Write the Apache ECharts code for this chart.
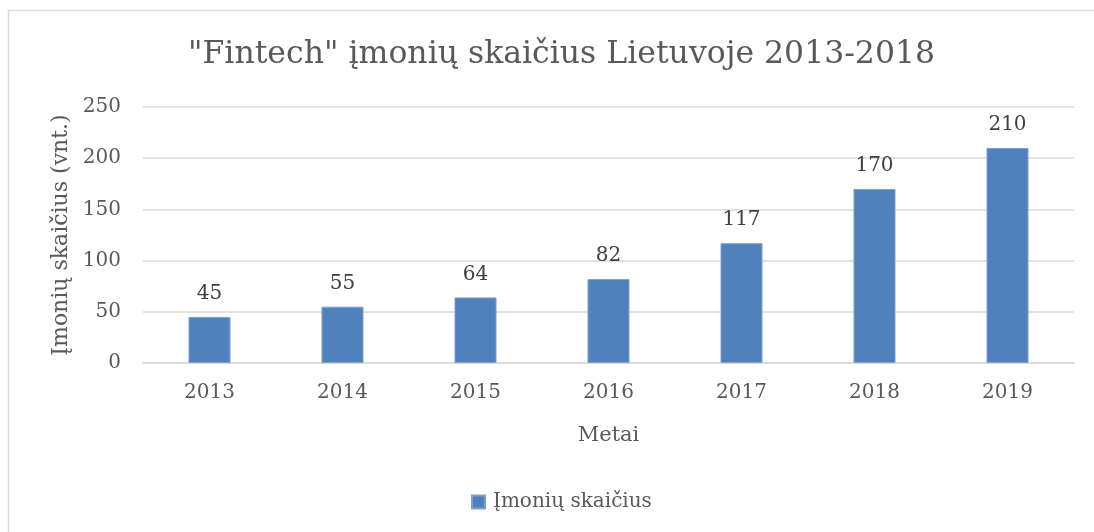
<!DOCTYPE html>
<html>
<head>
	<meta charset="utf-8">
	<title>Fintech įmonių skaičius</title>
	<script src="https://cdn.jsdelivr.net/npm/echarts@6/dist/echarts.min.js"></script>
	<style>
		html, body { margin: 0; padding: 0; background: #fff; }
		#chart { width: 1094px; height: 532px; }
	</style>
</head>
<body>
<div id="chart"></div>
<script>
	var years = ['2013', '2014', '2015', '2016', '2017', '2018', '2019'];
	var companies = [45, 55, 64, 82, 117, 170, 210];

	var font = '"DejaVu Serif", "Liberation Serif", serif';

	var myChart = echarts.init(document.getElementById('chart'));
	var option = {
		backgroundColor: '#fff',
		textStyle: { fontFamily: font },
		graphic: [
			{
				// chart frame: only top and left edges are visible
				type: 'polyline',
				shape: { points: [[8.5, 540], [8.5, 10.5], [1094, 10.5]] },
				style: { fill: 'none', stroke: '#d9d9d9', lineWidth: 1.5 },
				silent: true
			}
		],
		title: {
			text: '"Fintech" įmonių skaičius Lietuvoje 2013-2018',
			left: 183,
			top: 34,
			textStyle: { fontFamily: font, fontSize: 31.5, fontWeight: 'normal', color: '#595959' }
		},
		legend: {
			data: ['Įmonių skaičius'],
			bottom: 15,
			left: 466,
			itemWidth: 13,
			itemHeight: 13,
			icon: 'rect',
			textStyle: { fontFamily: font, fontSize: 20, color: '#595959', padding: [0, 0, 0, 3] }
		},
		grid: { left: 143, right: 20, top: 107, bottom: 169 },
		xAxis: {
			type: 'category',
			data: years,
			name: 'Metai',
			nameLocation: 'middle',
			nameGap: 62,
			nameTextStyle: { fontFamily: font, fontSize: 21, color: '#595959' },
			axisLine: { lineStyle: { color: '#d9d9d9', width: 1.5 } },
			axisTick: { show: false },
			axisLabel: { fontFamily: font, fontSize: 20, color: '#595959', margin: 20 }
		},
		yAxis: {
			type: 'value',
			min: 0,
			max: 250,
			interval: 50,
			name: 'Įmonių skaičius (vnt.)',
			nameLocation: 'middle',
			nameGap: 63,
			nameTextStyle: { fontFamily: font, fontSize: 22, color: '#595959' },
			axisLine: { show: false },
			axisTick: { show: false },
			splitLine: { lineStyle: { color: '#d9d9d9', width: 1.5 } },
			axisLabel: { fontFamily: font, fontSize: 20, color: '#595959', margin: 22 }
		},
		series: [
			{
				name: 'Įmonių skaičius',
				type: 'bar',
				data: companies,
				barWidth: 42,
				itemStyle: { color: '#4f81bd', borderColor: '#7ba0d0', borderWidth: 1 },
				label: {
					show: true,
					position: 'top',
					distance: 13,
					fontFamily: font,
					fontSize: 20,
					color: '#404040'
				}
			}
		]
	};
	myChart.setOption(option);
</script>
</body>
</html>
